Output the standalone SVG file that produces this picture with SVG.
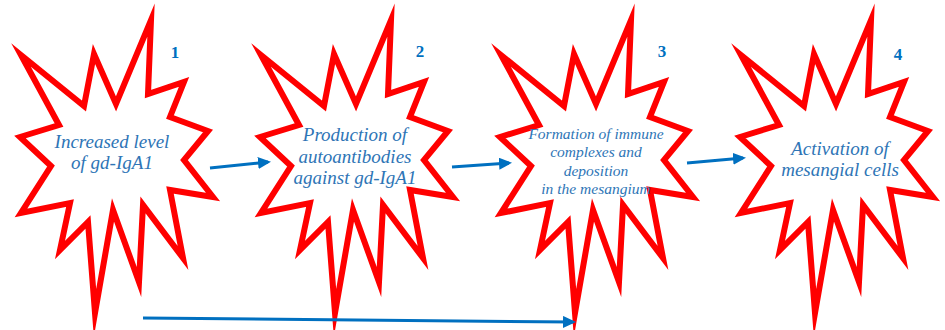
<svg xmlns="http://www.w3.org/2000/svg" xmlns:xlink="http://www.w3.org/1999/xlink" width="945" height="330" viewBox="0 0 945 330">
<style>
.star{fill:#ffffff;stroke:#ff0000;stroke-width:6;stroke-linejoin:miter;stroke-miterlimit:20}
.lbl{font-family:"Liberation Serif","Times New Roman",serif;font-style:italic;fill:#2e75b6;text-anchor:middle}
.num{font-family:"Liberation Serif","Times New Roman",serif;font-weight:bold;font-size:17px;fill:#0070c0;text-anchor:middle}
.conn{fill:none;stroke:#0070c0;stroke-width:3}
</style>
<defs>
<path id="star" d="M21,55 L84,106 L94,54 L116,104 L151,20 L148,94 L184,82 L170,117 L208,131 L184,160 L213,197 L170,190 L183,258 L143,205 L139,282 L113,210 L95,313 L88,222 L60,250 L70,203 L21,213 L51,166 L20,137 L59,125 Z"/>
<marker id="ah" markerUnits="userSpaceOnUse" markerWidth="14" markerHeight="12" refX="10" refY="6" orient="auto">
<path d="M0,0 L13,6 L0,12 Z" fill="#0070c0"/>
</marker>
</defs>
<g id="node1">
<use xlink:href="#star" href="#star" class="star"/>
<text class="num" x="175" y="58">1</text>
<text class="lbl" font-size="19" x="112" y="148">Increased level</text>
<text class="lbl" font-size="19" x="112" y="169">of gd-IgA1</text>
</g>
<g id="node2">
<use xlink:href="#star" href="#star" class="star" transform="translate(240,0)"/>
<text class="num" x="420" y="57">2</text>
<text class="lbl" font-size="19" x="355" y="141">Production of</text>
<text class="lbl" font-size="19" x="355" y="163">autoantibodies</text>
<text class="lbl" font-size="19" x="355" y="184">against gd-IgA1</text>
</g>
<g id="node3">
<use xlink:href="#star" href="#star" class="star" transform="translate(480,0)"/>
<text class="num" x="662" y="57">3</text>
<text class="lbl" font-size="15.5" x="596" y="139">Formation of immune</text>
<text class="lbl" font-size="15.5" x="596" y="157">complexes and</text>
<text class="lbl" font-size="15.5" x="596" y="176">deposition</text>
<text class="lbl" font-size="15.5" x="596" y="194">in the mesangium</text>
</g>
<g id="node4">
<use xlink:href="#star" href="#star" class="star" transform="translate(720,0)"/>
<text class="num" x="898" y="60">4</text>
<text class="lbl" font-size="19" x="840" y="155">Activation of</text>
<text class="lbl" font-size="19" x="840" y="176">mesangial cells</text>
</g>
<g id="connectors">
<path class="conn" d="M210,168 L268,162" marker-end="url(#ah)"/>
<path class="conn" d="M452,167 L509,163" marker-end="url(#ah)"/>
<path class="conn" d="M687,163 L743,158" marker-end="url(#ah)"/>
<path class="conn" d="M143,318 L573,322" marker-end="url(#ah)"/>
</g>
</svg>
